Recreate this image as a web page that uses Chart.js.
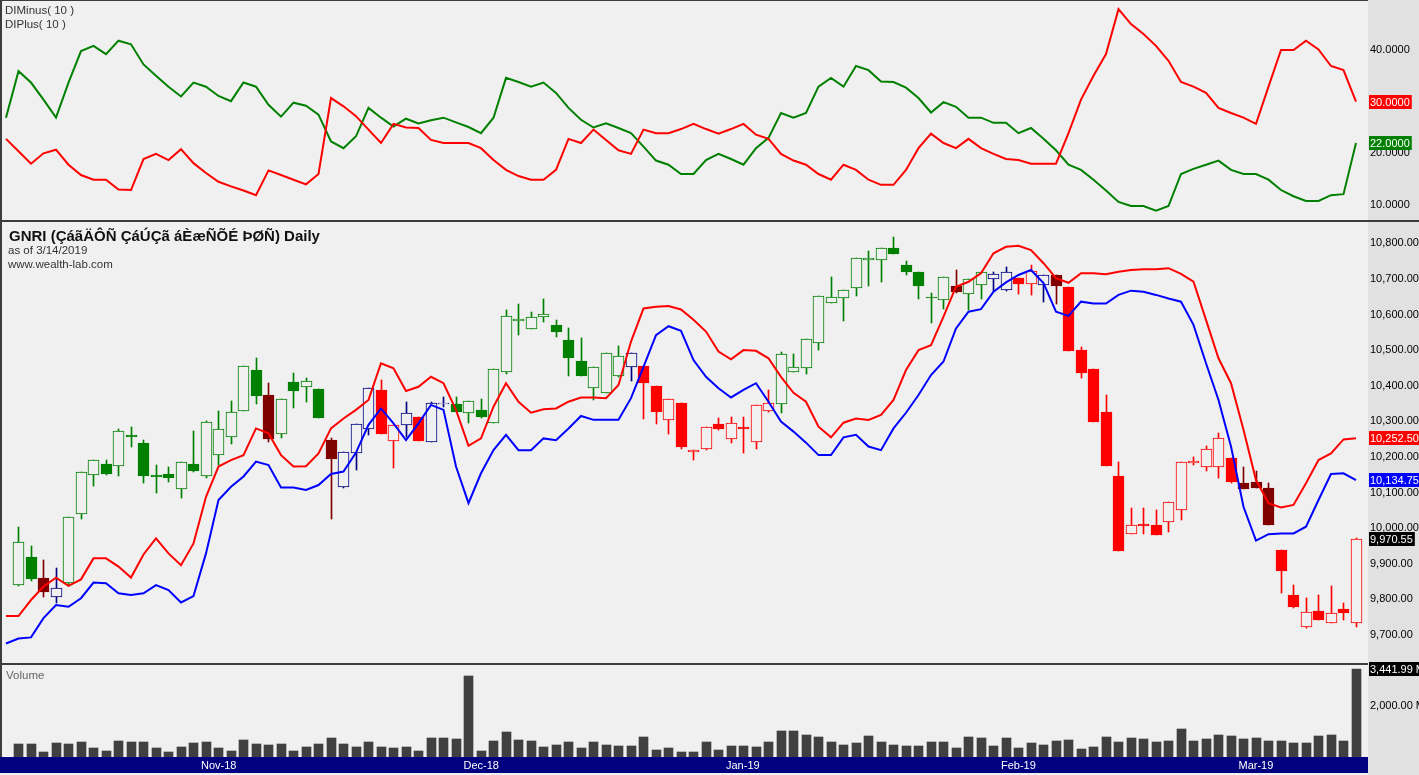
<!DOCTYPE html>
<html>
<head>
<meta charset="utf-8">
<title>GNRI Daily</title>
<script src="https://cdn.jsdelivr.net/npm/chart.js@4.4.1/dist/chart.umd.min.js"></script>
<style>
  html, body { margin: 0; padding: 0; }
  body { width: 1419px; height: 775px; background: #f0f0f0; position: relative; overflow: hidden;
         font-family: "Liberation Sans", Arial, sans-serif; }
  .axis-bg { position: absolute; left: 1368px; top: 0; width: 51px; height: 775px; background: #e1e1e1; }
  .date-bar { position: absolute; left: 0; top: 757px; width: 1368px; height: 16px; background: #000080; }
  .pane { position: absolute; left: 0; width: 1419px; }
  .pane canvas { display: block; }
  .rule { position: absolute; background: #3c3c3c; }
  .note { position: absolute; white-space: nowrap; font-size: 11.5px; line-height: 13px; color: #333; }
  .title { font-weight: bold; font-size: 15px; line-height: 17px; color: #111; }
</style>
</head>
<body>
<div class="axis-bg"></div>
<div class="date-bar"></div>

<div class="pane" style="top:1px"><canvas id="diPane" width="1419" height="219"></canvas></div>
<div class="pane" style="top:222px"><canvas id="pricePane" width="1419" height="440"></canvas></div>
<div class="pane" style="top:655px"><canvas id="volumePane" width="1419" height="120"></canvas></div>

<div class="rule" style="left:0;top:0;width:1368px;height:1px"></div>
<div class="rule" style="left:0;top:0;width:2px;height:757px"></div>
<div class="rule" style="left:0;top:220px;width:1419px;height:2px"></div>
<div class="rule" style="left:0;top:663px;width:1368px;height:2px"></div>

<div class="note" style="left:5px;top:4px">DIMinus( 10 )</div>
<div class="note" style="left:5px;top:18px">DIPlus( 10 )</div>
<div class="note title" style="left:9px;top:227px">GNRI (ÇáãÄÔÑ ÇáÚÇã áÈæÑÕÉ ÞØÑ) Daily</div>
<div class="note" style="left:8px;top:244px">as of 3/14/2019</div>
<div class="note" style="left:8px;top:258px">www.wealth-lab.com</div>
<div class="note" style="left:6px;top:669px;color:#666">Volume</div>

<script>
// ---- data (bar 0 = first candle on screen, Oct-18) ----
const opens = [9840, 9920, 9861, 9807, 9845, 10040, 10149, 10180, 10175, 10262,
  10240, 10149, 10152, 10110, 10180, 10145, 10205, 10257, 10330, 10444,
  10374, 10264, 10409, 10395, 10391, 10247, 10116, 10212, 10277, 10388,
  10245, 10290, 10311, 10243, 10349, 10349, 10324, 10332, 10296, 10439,
  10582, 10559, 10594, 10571, 10528, 10468, 10394, 10380, 10427, 10452,
  10455, 10399, 10304, 10350, 10213, 10221, 10292, 10249, 10283, 10243,
  10330, 10349, 10439, 10451, 10521, 10633, 10646, 10674, 10752, 10752,
  10787, 10738, 10720, 10650, 10641, 10681, 10658, 10683, 10699, 10669,
  10702, 10686, 10683, 10711, 10676, 10500, 10447, 10327, 10145, 9983,
  10011, 10009, 10018, 10051, 10184, 10173, 10171, 10196, 10126, 10130,
  10114, 9939, 9812, 9723, 9767, 9734, 9772, 9733];
const highs = [10002, 9950, 9909, 9887, 10030, 10157, 10191, 10191, 10277, 10285,
  10247, 10177, 10173, 10187, 10274, 10301, 10329, 10357, 10455, 10477,
  10407, 10363, 10435, 10421, 10391, 10252, 10213, 10292, 10394, 10416,
  10290, 10355, 10311, 10355, 10369, 10369, 10358, 10363, 10447, 10613,
  10630, 10608, 10644, 10585, 10561, 10533, 10453, 10493, 10512, 10493,
  10455, 10399, 10362, 10350, 10219, 10285, 10308, 10313, 10313, 10346,
  10388, 10496, 10489, 10531, 10653, 10704, 10669, 10760, 10779, 10788,
  10818, 10751, 10720, 10661, 10706, 10725, 10699, 10718, 10720, 10734,
  10702, 10739, 10711, 10711, 10676, 10510, 10447, 10374, 10187, 10056,
  10056, 10051, 10074, 10187, 10199, 10231, 10266, 10196, 10173, 10159,
  10126, 9939, 9840, 9803, 9812, 9837, 9789, 9971];
const lows = [9838, 9852, 9807, 9789, 9840, 10026, 10119, 10149, 10145, 10229,
  10126, 10098, 10130, 10084, 10158, 10140, 10177, 10236, 10329, 10348,
  10243, 10252, 10336, 10355, 10308, 10026, 10112, 10163, 10262, 10264,
  10168, 10257, 10245, 10242, 10341, 10325, 10294, 10308, 10296, 10433,
  10541, 10559, 10580, 10538, 10427, 10428, 10360, 10379, 10425, 10414,
  10306, 10292, 10264, 10221, 10191, 10219, 10276, 10240, 10212, 10221,
  10327, 10324, 10439, 10433, 10500, 10633, 10582, 10652, 10680, 10690,
  10769, 10711, 10643, 10577, 10615, 10659, 10613, 10643, 10667, 10667,
  10658, 10655, 10636, 10630, 10498, 10421, 10299, 10175, 9937, 9983,
  9983, 9981, 9990, 10023, 10177, 10159, 10140, 10126, 10109, 10114,
  10009, 9817, 9775, 9718, 9742, 9734, 9742, 9723];
const closes = [9962, 9856, 9821, 9833, 10030, 10157, 10191, 10152, 10273, 10257,
  10147, 10143, 10140, 10187, 10159, 10297, 10278, 10327, 10455, 10372,
  10249, 10363, 10386, 10413, 10310, 10194, 10213, 10292, 10394, 10264,
  10290, 10324, 10246, 10352, 10352, 10327, 10358, 10313, 10447, 10597,
  10587, 10594, 10600, 10552, 10479, 10428, 10453, 10493, 10484, 10493,
  10407, 10327, 10362, 10227, 10219, 10285, 10277, 10296, 10277, 10346,
  10350, 10489, 10453, 10531, 10653, 10650, 10669, 10760, 10759, 10788,
  10769, 10718, 10681, 10646, 10706, 10664, 10699, 10718, 10713, 10718,
  10686, 10723, 10711, 10680, 10498, 10435, 10299, 10175, 9937, 10009,
  10007, 9981, 10074, 10187, 10189, 10221, 10254, 10130, 10109, 10114,
  10009, 9880, 9779, 9765, 9742, 9762, 9761, 9970.55];
// where the bar sits against the bands: g above, b between, r below
const zones = ("ggbbgggggg" + "gggggggggg" + "bggggbbbbr" + "rbrbbggggg" + "gggggggggb" +
  "rrrrrrrrrr" + "rggggggggg" + "gggggbggbb" + "rrbbrrrrrr" + "rrrrrrrrbb" + "brrrrrrr").split("");
const volume = [508, 508, 195, 547, 508, 586, 352, 248, 638, 586,
  586, 352, 195, 391, 547, 586, 352, 248, 678, 508,
  456, 508, 248, 391, 508, 743, 508, 391, 586, 391,
  352, 391, 248, 743, 743, 691, 3180, 248, 638, 977,
  678, 638, 391, 482, 586, 352, 586, 482, 443, 443,
  782, 287, 352, 195, 195, 586, 287, 443, 443, 391,
  586, 1029, 1029, 873, 782, 586, 482, 547, 834, 586,
  482, 443, 443, 586, 586, 352, 782, 743, 443, 743,
  352, 547, 456, 638, 678, 313, 391, 782, 586, 743,
  691, 586, 638, 1095, 638, 691, 873, 834, 691, 743,
  638, 638, 547, 547, 834, 873, 638, 3441.99];

// indicator arrays start one bar earlier (bar -1, just left of the first candle)
const upperBand = [9753, 9753, 9798, 9836, 9861, 9838, 9856, 9915, 9915, 9892, 9861,
  9926, 9971, 9929, 9896, 9957, 10088, 10173, 10191, 10205, 10280,
  10266, 10205, 10173, 10174, 10210, 10280, 10308, 10332, 10360, 10463,
  10449, 10385, 10397, 10425, 10407, 10332, 10231, 10252, 10341, 10407,
  10355, 10324, 10334, 10336, 10355, 10367, 10367, 10365, 10402, 10524,
  10617, 10622, 10624, 10614, 10585, 10552, 10496, 10474, 10500, 10498,
  10477, 10425, 10380, 10355, 10285, 10255, 10296, 10308, 10304, 10318,
  10360, 10444, 10500, 10514, 10594, 10678, 10692, 10716, 10772, 10790,
  10793, 10781, 10744, 10702, 10689, 10716, 10716, 10713, 10720, 10725,
  10727, 10727, 10730, 10714, 10692, 10585, 10477, 10407, 10276, 10135,
  10070, 10058, 10065, 10126, 10191, 10210, 10249, 10252.5];
const lowerBand = [9676, 9690, 9693, 9747, 9784, 9779, 9803, 9847, 9845, 9817, 9812,
  9817, 9840, 9826, 9791, 9809, 9929, 10079, 10116, 10145, 10187,
  10177, 10114, 10114, 10107, 10121, 10152, 10159, 10212, 10290, 10336,
  10294, 10247, 10294, 10346, 10332, 10173, 10070, 10154, 10219, 10262,
  10219, 10219, 10252, 10247, 10280, 10315, 10304, 10304, 10304, 10365,
  10453, 10542, 10567, 10554, 10472, 10425, 10393, 10367, 10388, 10407,
  10355, 10299, 10271, 10240, 10205, 10205, 10255, 10262, 10229, 10219,
  10280, 10324, 10374, 10430, 10468, 10561, 10608, 10615, 10664, 10690,
  10711, 10725, 10688, 10608, 10596, 10636, 10631, 10631, 10655, 10667,
  10664, 10655, 10645, 10636, 10571, 10463, 10360, 10229, 10060, 9965,
  9983, 9985, 9985, 10004, 10079, 10152, 10154, 10134.75];
const diMinus = [22.8, 20.4, 18.0, 20.0, 20.7, 17.8, 15.8, 14.9, 14.9, 13.0, 12.9,
  18.9, 19.9, 18.7, 20.8, 18.1, 16.2, 14.5, 13.6, 12.8, 11.9,
  16.7, 15.8, 14.9, 14.0, 16.0, 30.7, 29.1, 27.2, 24.6, 22.0,
  25.7, 25.0, 24.9, 22.6, 22.0, 22.0, 22.0, 21.0, 18.7, 16.8,
  15.6, 14.9, 14.9, 16.8, 22.8, 22.0, 24.6, 22.6, 20.6, 19.9,
  24.6, 23.9, 23.9, 24.7, 25.7, 24.7, 23.8, 24.7, 25.7, 23.6,
  22.8, 19.9, 18.6, 17.8, 16.0, 14.9, 17.8, 16.8, 14.9, 13.9,
  13.9, 16.8, 21.0, 23.8, 22.0, 21.0, 22.8, 21.0, 19.9, 18.9,
  18.7, 18.0, 18.0, 18.0, 23.9, 30.4, 35.0, 39.2, 47.9, 45.0,
  43.1, 40.8, 37.9, 33.8, 32.9, 31.7, 28.8, 27.8, 26.9, 25.7,
  32.9, 40.0, 40.0, 41.8, 40.1, 36.9, 36.1, 30.0];
const diPlus = [26.9, 35.9, 33.7, 30.4, 26.9, 33.7, 39.8, 40.8, 39.2, 41.8, 41.1,
  37.2, 35.0, 32.9, 31.0, 33.7, 32.9, 31.1, 30.1, 33.7, 32.9,
  29.4, 27.1, 29.8, 29.2, 27.5, 22.3, 21.0, 23.3, 28.8, 26.9,
  25.2, 26.7, 25.8, 26.4, 26.9, 26.0, 25.1, 23.9, 26.9, 34.6,
  33.8, 32.9, 33.7, 31.7, 28.8, 26.5, 25.0, 25.8, 24.9, 23.9,
  21.3, 18.6, 17.8, 16.0, 16.0, 18.7, 19.9, 18.9, 17.8, 21.0,
  23.0, 27.8, 26.9, 27.8, 32.9, 34.6, 32.9, 36.9, 36.1, 33.9,
  33.8, 32.7, 30.7, 27.9, 29.9, 29.0, 26.9, 26.9, 25.9, 25.9,
  23.9, 24.9, 22.8, 20.6, 17.8, 16.8, 14.9, 12.8, 10.6, 9.8,
  9.8, 8.9, 9.8, 16.0, 17.0, 17.8, 18.6, 16.8, 16.0, 16.0,
  14.9, 12.9, 11.7, 10.8, 10.8, 11.9, 12.1, 22.0];

const monthStarts = [15, 36, 57, 79, 98];
const monthLabels = ["Nov-18", "Dec-18", "Jan-19", "Feb-19", "Mar-19"];
const priceTicks = [9700, 9800, 9900, 10000, 10100, 10200, 10300, 10400, 10500, 10600, 10700, 10800];
const diTicks = [10, 20, 30, 40];
const volumeTicks = [2000];

// ---- look ----
const FONT = '"Liberation Sans", Arial, sans-serif';
const PANE_BG = "#f0f0f0";
const GREEN = "#008000", RED = "#ff0000", NAVY = "#000080", MAROON = "#800000";
const X_MIN = -1.32, X_MAX = 107.96;

Chart.defaults.font.family = FONT;
Chart.defaults.font.size = 11;

const bars = opens.map((_, i) => i);
const lineX = upperBand.map((_, k) => k - 1);

function candleColor(i) {
  if (zones[i] === "g") return GREEN;
  if (zones[i] === "r") return RED;
  return closes[i] > opens[i] ? NAVY : MAROON;
}
const candleColors = bars.map(candleColor);
const bodyFill = bars.map(i => closes[i] > opens[i] ? PANE_BG : candleColors[i]);

const money = v => v.toLocaleString("en-US", { minimumFractionDigits: 2, maximumFractionDigits: 2 });

// value tags in the axis strip
const lastTag = {
  id: "lastTag",
  afterDraw(chart, args, opts) {
    const { ctx, chartArea } = chart;
    const y = chart.scales.y;
    ctx.save();
    ctx.font = "11px " + FONT;
    ctx.textBaseline = "middle";
    ctx.textAlign = "left";
    (opts.tags || []).forEach(t => {
      const py = Math.round(y.getPixelForValue(t.value));
      const w = ctx.measureText(t.text).width + 3;
      ctx.fillStyle = t.bg;
      ctx.fillRect(chartArea.right + 1, py - 7, w, 14);
      ctx.fillStyle = "#fff";
      ctx.fillText(t.text, chartArea.right + 2, py + 0.5);
    });
    ctx.restore();
  }
};

// snap bar edges to whole pixels so 1px outlines stay crisp
const pixelSnap = {
  id: "pixelSnap",
  beforeDatasetsDraw(chart) {
    chart.data.datasets.forEach((ds, k) => {
      const meta = chart.getDatasetMeta(k);
      if (meta.type !== "bar") return;
      meta.data.forEach(el => {
        el.x = Math.floor(el.x) + 0.5;
        el.y = Math.round(el.y);
        el.base = Math.round(el.base);
      });
    });
  }
};

function xAxis(show) {
  const axis = {
    type: "linear", min: X_MIN, max: X_MAX, offset: false, display: show,
    grid: { display: false, drawTicks: false }, border: { display: false }
  };
  if (show) {
    axis.ticks = { color: "#fff", padding: 2, maxRotation: 0, autoSkip: false, align: "start",
      callback: (v, idx) => monthLabels[idx] };
    axis.afterBuildTicks = a => { a.ticks = monthStarts.map(i => ({ value: i - 0.4 })); };
    axis.afterFit = a => { a.height = 18; a.paddingLeft = 0; a.paddingRight = 0; };
  }
  return axis;
}

function yAxis(min, max, ticks, format) {
  return {
    type: "linear", position: "right", min, max,
    grid: { display: false, drawTicks: false }, border: { display: false },
    ticks: { color: "#000", padding: 2, callback: v => format(v) },
    afterBuildTicks: a => { a.ticks = ticks.map(v => ({ value: v })); },
    afterFit: a => { a.width = 51; a.paddingTop = 0; a.paddingBottom = 0; }
  };
}

function baseOptions(scales, tags, top) {
  return {
    responsive: false, animation: false, events: [], devicePixelRatio: 1,
    layout: { padding: { left: 2, right: 0, top: top || 0, bottom: 0 } },
    plugins: { legend: { display: false }, tooltip: { enabled: false }, lastTag: { tags } },
    scales
  };
}

const line = (data, color, order) => ({
  type: "line", data: lineX.map((x, k) => ({ x, y: data[k] })),
  borderColor: color, borderWidth: 2, pointRadius: 0, tension: 0, order
});

// DI pane
new Chart(document.getElementById("diPane"), {
  type: "line",
  data: { datasets: [line(diMinus, RED, 0), line(diPlus, GREEN, 1)] },
  options: baseOptions({ x: xAxis(false), y: yAxis(7.1, 49.48, diTicks, v => v.toFixed(4)) }, [
    { value: diMinus[diMinus.length - 1], text: diMinus[diMinus.length - 1].toFixed(4), bg: RED },
    { value: diPlus[diPlus.length - 1], text: diPlus[diPlus.length - 1].toFixed(4), bg: GREEN }
  ]),
  plugins: [lastTag]
});

// price pane
new Chart(document.getElementById("pricePane"), {
  type: "bar",
  data: {
    datasets: [
      line(upperBand, RED, 0),
      line(lowerBand, "#0000ff", 0),
      {
        data: bars.map(i => ({ x: i, y: [opens[i], closes[i]] })),
        backgroundColor: bodyFill, borderColor: candleColors, borderWidth: 1,
        borderSkipped: false, barThickness: 11, minBarLength: 1, grouped: false, order: 1
      },
      {
        data: bars.map(i => ({ x: i, y: [lows[i], highs[i]] })),
        backgroundColor: candleColors, borderWidth: 0, barThickness: 1, grouped: false, order: 2
      }
    ]
  },
  options: baseOptions({ x: xAxis(false), y: yAxis(9623.9, 10859.8, priceTicks, money) }, [
    { value: upperBand[upperBand.length - 1], text: money(upperBand[upperBand.length - 1]), bg: RED },
    { value: lowerBand[lowerBand.length - 1], text: money(lowerBand[lowerBand.length - 1]), bg: "#0000ff" },
    { value: closes[closes.length - 1], text: money(closes[closes.length - 1]), bg: "#000" }
  ]),
  plugins: [pixelSnap, lastTag]
});

// volume pane
new Chart(document.getElementById("volumePane"), {
  type: "bar",
  data: {
    datasets: [{
      data: bars.map(i => ({ x: i, y: volume[i] })),
      backgroundColor: "#404040", barThickness: 9, grouped: false
    }]
  },
  options: baseOptions({ x: xAxis(true), y: yAxis(0, 3598, volumeTicks, v => money(v) + " M") }, [
    { value: volume[volume.length - 1], text: money(volume[volume.length - 1]) + " M", bg: "#000" }
  ], 10),
  plugins: [pixelSnap, lastTag]
});
</script>
</body>
</html>
